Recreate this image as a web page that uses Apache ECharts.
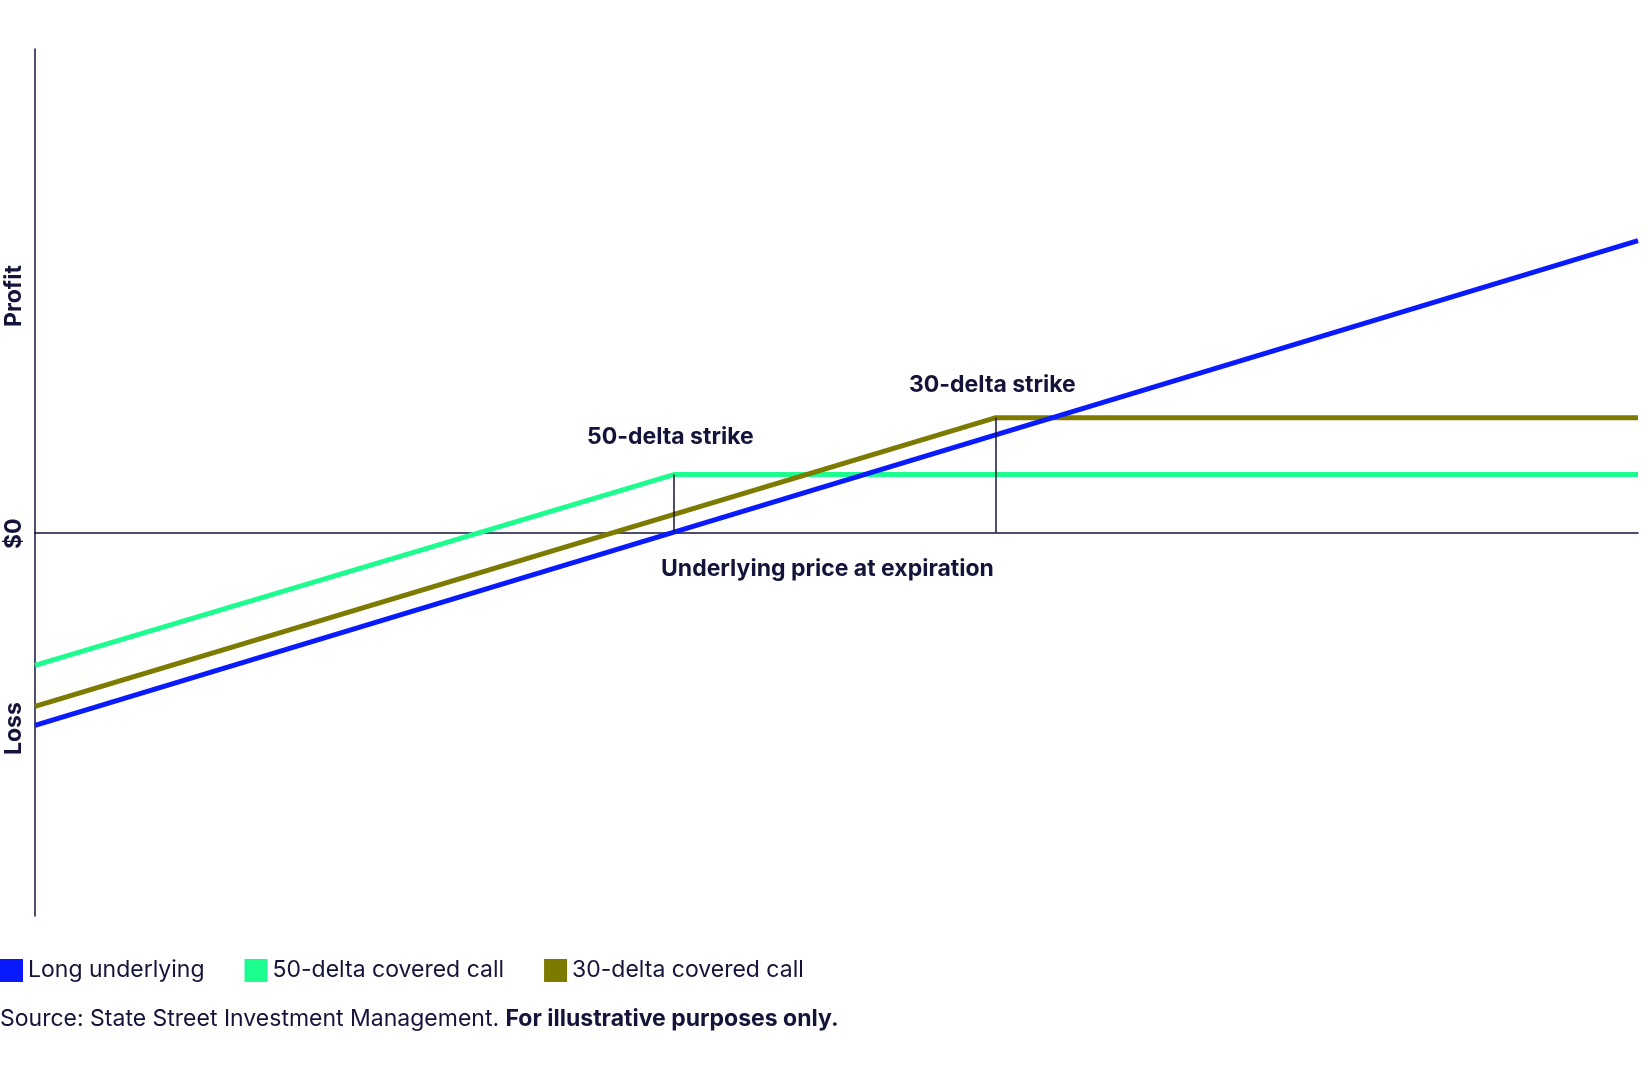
<!DOCTYPE html>
<html>
<head>
<meta charset="utf-8">
<script src="https://cdn.jsdelivr.net/npm/echarts@6/dist/echarts.min.js"></script>
<style>html,body{margin:0;padding:0;background:#fff}#chart{width:1648px;height:1080px}</style>
</head>
<body>
<div id="chart"></div>
<script>
// x = underlying price (arbitrary units), y = profit/loss (arbitrary units)
var longX = [0, 1523];
var longY = [-183, 277];
var call50X = [0, 607, 1523];
var call50Y = [-126, 55, 55];
var call30X = [0, 913, 1523];
var call30Y = [-165, 109, 109];
var strikes = [607, 913];
var strikeTops = [55, 109];
var seriesNames = ['Long underlying', '50-delta covered call', '30-delta covered call'];
var colors = ['#0a1aff', '#1dfc8f', '#7d7a00'];
var ink = '#14143a';

function pairs(xs, ys) { return xs.map(function (x, i) { return [x, ys[i]]; }); }

var myChart = echarts.init(document.getElementById('chart'));
var option = {
    animation: false,
    grid: { left: 35, right: 10, top: 49, bottom: 164 },
    xAxis: {
        type: 'value', min: 0, max: 1523,
        axisLine: { lineStyle: { color: ink, width: 1.5 } },
        axisTick: { show: false }, axisLabel: { show: false }, splitLine: { show: false }
    },
    yAxis: {
        type: 'value', min: -364, max: 459,
        axisLine: { show: true, lineStyle: { color: ink, width: 1.5 } },
        axisTick: { show: false }, axisLabel: { show: false }, splitLine: { show: false }
    },
    legend: {
        left: 0, top: 959, padding: 0, itemWidth: 23, itemHeight: 23, itemGap: 40, icon: 'rect',
        textStyle: { fontFamily: 'Inter', fontSize: 23, color: ink },
        data: seriesNames
    },
    series: [
        {
            name: 'strikes', type: 'line', silent: true, symbol: 'none',
            data: [], z: 1,
            markLine: {
                symbol: 'none', silent: true, label: { show: false },
                lineStyle: { color: ink, width: 1.5, type: 'solid' },
                data: strikes.map(function (s, i) { return [{ coord: [s, 0] }, { coord: [s, strikeTops[i]] }]; })
            }
        },
        { name: seriesNames[0], type: 'line', symbol: 'none', color: colors[0], lineStyle: { width: 5 }, data: pairs(longX, longY), z: 4 },
        { name: seriesNames[1], type: 'line', symbol: 'none', color: colors[1], lineStyle: { width: 5 }, data: pairs(call50X, call50Y), z: 3 },
        { name: seriesNames[2], type: 'line', symbol: 'none', color: colors[2], lineStyle: { width: 5 }, data: pairs(call30X, call30Y), z: 3 }
    ],
    graphic: [
        { type: 'text', left: 587, top: 426, style: { text: '50-delta strike', font: 'bold 23px Inter', fill: ink } },
        { type: 'text', left: 909, top: 374, style: { text: '30-delta strike', font: 'bold 23px Inter', fill: ink } },
        { type: 'text', left: 661, top: 558, style: { text: 'Underlying price at expiration', font: 'bold 23px Inter', fill: ink } },
        { type: 'text', x: 3, y: 327, rotation: Math.PI / 2, style: { text: 'Profit', font: 'bold 23px Inter', fill: ink } },
        { type: 'text', x: 3, y: 549, rotation: Math.PI / 2, style: { text: '$0', font: 'bold 23px Inter', fill: ink } },
        { type: 'text', x: 3, y: 755, rotation: Math.PI / 2, style: { text: 'Loss', font: 'bold 23px Inter', fill: ink } },
        { type: 'text', left: 0, top: 1008, style: {
            text: '{n|Source: State Street Investment Management. }{b|For illustrative purposes only.}',
            rich: { n: { font: '23px Inter', fill: ink }, b: { font: 'bold 23px Inter', fill: ink } }
        } }
    ]
};
myChart.setOption(option, true);
</script>
</body>
</html>
